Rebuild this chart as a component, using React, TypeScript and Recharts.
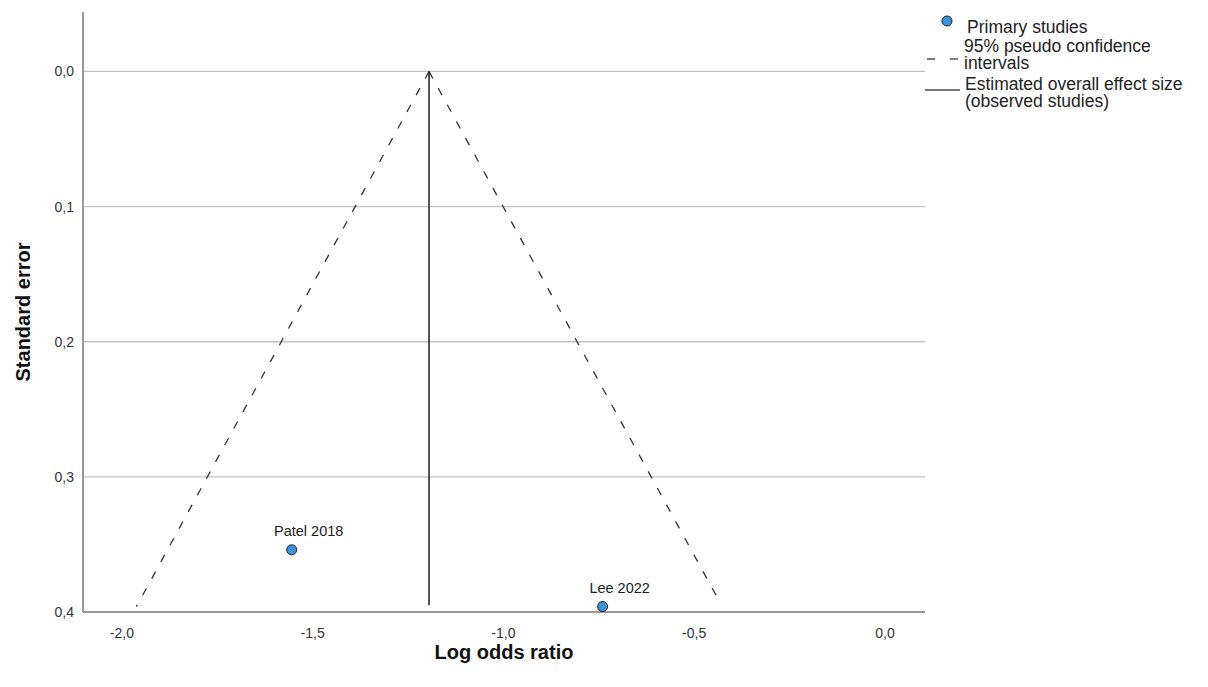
import { ComposedChart, Scatter, XAxis, YAxis, ReferenceLine, Label } from "recharts";

// studies
const studyNames = ["Patel 2018", "Lee 2022"];
const logOddsRatios = [-1.555, -0.74];
const standardErrors = [0.354, 0.396];

// pooled estimate and the pseudo 95% CI funnel
const pooledLine = [
  { x: -1.195, y: 0 },
  { x: -1.195, y: 0.395 },
];
const leftCi = [
  { x: -1.195, y: 0 },
  { x: -1.962, y: 0.396 },
];
const rightCi = [
  { x: -1.195, y: 0 },
  { x: -0.436, y: 0.391 },
];

const xTicks = [-2, -1.5, -1, -0.5, 0];
const yTicks = [0, 0.1, 0.2, 0.3, 0.4];
const gridLines = [0, 0.1, 0.2, 0.3];
const legendLabels = [
  ["Primary studies"],
  ["95% pseudo confidence", "intervals"],
  ["Estimated overall effect size", "(observed studies)"],
];

const FONT = "'Liberation Sans', Arial, sans-serif";
const POINT_FILL = "#3a94dd";

const studies = studyNames.map((name, i) => ({
  name,
  x: logOddsRatios[i],
  y: standardErrors[i],
}));

const fmt = (v: number) => v.toFixed(1).replace(".", ",");

function StudyPoint(props: any) {
  const { cx, cy, payload } = props;
  return (
    <g>
      <circle cx={cx} cy={cy} r={5} fill={POINT_FILL} stroke="#1c1c1c" strokeWidth={1} />
      <text x={cx + 17} y={cy - 14} textAnchor="middle" fontSize={14.5} fill="#222" fontFamily={FONT}>
        {payload.name}
      </text>
    </g>
  );
}

const NoDot = () => <g />;

// legend drawn straight into the svg so it doesn't eat plot height
function FunnelLegend() {
  return (
    <g fontFamily={FONT} fontSize={17.5} fill="#222">
      <circle cx={947} cy={21} r={5} fill={POINT_FILL} stroke="#1c1c1c" strokeWidth={1} />
      <text x={967} y={33}>{legendLabels[0][0]}</text>

      <line x1={927} y1={59} x2={961} y2={59} stroke="#555" strokeWidth={1.5} strokeDasharray="8 15" />
      <text x={964} y={52}>{legendLabels[1][0]}</text>
      <text x={964} y={69}>{legendLabels[1][1]}</text>

      <line x1={925} y1={90} x2={960} y2={90} stroke="#777" strokeWidth={2} />
      <text x={965} y={90}>{legendLabels[2][0]}</text>
      <text x={965} y={107}>{legendLabels[2][1]}</text>
    </g>
  );
}

export default function App() {
  return (
    <div style={{ margin: -8, width: 1208, height: 687, background: "#fff", position: "relative" }}>
      <ComposedChart
        width={1208}
        height={687}
        margin={{ top: 12, right: 283, bottom: 0, left: 0 }}
        style={{ fontFamily: FONT }}
      >
        <text x={612} y={7} textAnchor="middle" fontSize={22} fontWeight="bold" fill="#111" fontFamily={FONT}>
          Funnel Plot
        </text>
        <XAxis
          type="number"
          dataKey="x"
          domain={[-2.102, 0.105]}
          ticks={xTicks}
          tickFormatter={fmt}
          allowDataOverflow
          height={75}
          tickLine={false}
          tickSize={0}
          tickMargin={16}
          axisLine={{ stroke: "#999", strokeWidth: 2 }}
          tick={{ fontSize: 14, fill: "#333", fontFamily: FONT }}
        >
          <Label
            value="Log odds ratio"
            position="insideBottom"
            offset={28}
            style={{ fontSize: 20, fontWeight: "bold", fill: "#111", fontFamily: FONT }}
          />
        </XAxis>
        <YAxis
          type="number"
          dataKey="y"
          reversed
          domain={[-0.044, 0.4]}
          ticks={yTicks}
          tickFormatter={fmt}
          allowDataOverflow
          width={83}
          tickLine={false}
          tickSize={0}
          tickMargin={9}
          axisLine={{ stroke: "#999", strokeWidth: 2 }}
          tick={{ fontSize: 14, fill: "#333", fontFamily: FONT }}
        >
          <Label
            value="Standard error"
            angle={-90}
            position="insideLeft"
            offset={23}
            style={{ fontSize: 20, fontWeight: "bold", fill: "#111", fontFamily: FONT, textAnchor: "middle" }}
          />
        </YAxis>
        {gridLines.map((v) => (
          <ReferenceLine key={v} y={v} stroke="#c2c2c2" strokeWidth={1.3} />
        ))}
        <Scatter
          data={leftCi}
          line={{ stroke: "#333", strokeWidth: 1.3, strokeDasharray: "8 11" }}
          shape={NoDot}
          isAnimationActive={false}
        />
        <Scatter
          data={rightCi}
          line={{ stroke: "#333", strokeWidth: 1.3, strokeDasharray: "8 11" }}
          shape={NoDot}
          isAnimationActive={false}
        />
        <Scatter
          data={pooledLine}
          line={{ stroke: "#1a1a1a", strokeWidth: 1.5 }}
          shape={NoDot}
          isAnimationActive={false}
        />
        <Scatter data={studies} shape={StudyPoint} isAnimationActive={false} />
        <FunnelLegend />
      </ComposedChart>
    </div>
  );
}
